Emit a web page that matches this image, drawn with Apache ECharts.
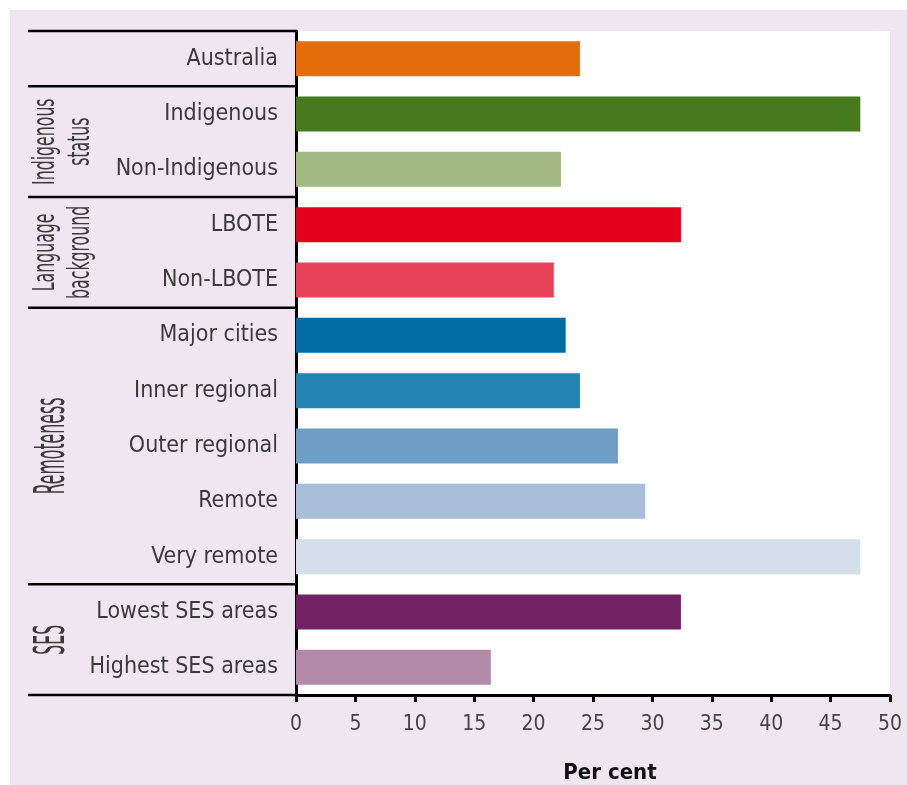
<!DOCTYPE html>
<html>
<head>
<meta charset="utf-8">
<script src="https://cdn.jsdelivr.net/npm/echarts@6/dist/echarts.min.js"></script>
<style>
  body { margin: 0; background: #fff; }
  #bg { position: absolute; left: 10px; top: 10px; width: 897px; height: 775px; background: #f0e6ef; }
  #main { position: absolute; left: 0; top: 0; width: 907px; height: 785px; }
</style>
</head>
<body>
<div id="bg"></div>
<div id="main"></div>
<script>
  var categories = ['Australia', 'Indigenous', 'Non-Indigenous', 'LBOTE', 'Non-LBOTE',
    'Major cities', 'Inner regional', 'Outer regional', 'Remote', 'Very remote',
    'Lowest SES areas', 'Highest SES areas'];
  var values = [23.9, 47.5, 22.3, 32.4, 21.7, 22.7, 23.9, 27.1, 29.4, 47.5, 32.4, 16.4];
  var barColors = ['#e26d0a', '#467a1d', '#a2b983', '#e2001a', '#e8425a', '#006ca3',
    '#2384b3', '#6f9ec4', '#a7bdd8', '#d4dfea', '#722264', '#b38ba9'];
  // group label, number of categories in the group
  var groupNames = ['', 'Indigenous\nstatus', 'Language\nbackground', 'Remoteness', 'SES'];
  var groupSizes = [1, 2, 2, 5, 2];

  var font = '"DejaVu Sans Condensed", "DejaVu Sans", sans-serif';
  var chart = echarts.init(document.getElementById('main'));

  var barData = [];
  for (var i = 0; i < values.length; i++) {
    barData.push({ value: values[i], itemStyle: { color: barColors[i] } });
  }

  chart.setOption({
    backgroundColor: 'transparent',
    animation: false,
    grid: {
      left: 296, right: 17, top: 31, bottom: 90,
      show: true, backgroundColor: '#fff', borderWidth: 0
    },
    xAxis: {
      type: 'value', min: 0, max: 50, interval: 5,
      splitLine: { show: false },
      axisLine: { show: true, lineStyle: { color: '#000', width: 3 } },
      axisTick: { show: true, length: 7, lineStyle: { color: '#000', width: 3 } },
      axisLabel: { color: '#444', fontSize: 21, fontFamily: font, margin: 19 }
    },
    yAxis: {
      type: 'category', data: categories, inverse: true,
      axisLine: { show: true, lineStyle: { color: '#000', width: 3 } },
      axisTick: { show: false },
      axisLabel: { color: '#3a3a3a', fontSize: 23, fontFamily: font, margin: 18 }
    },
    series: [{
      type: 'bar',
      data: barData,
      barWidth: 35
    }]
  });

  // group separators and rotated group titles, placed from the category axis
  var graphics = [];
  var c0 = chart.convertToPixel({ yAxisIndex: 0 }, 0);
  var c1 = chart.convertToPixel({ yAxisIndex: 0 }, 1);
  var band = c1 - c0;
  var axisX = chart.convertToPixel({ xAxisIndex: 0 }, 0);
  var idx = 0;
  var topY = c0 - band / 2;
  graphics.push({ type: 'line', z: 100, shape: { x1: 28, y1: topY, x2: axisX, y2: topY },
    style: { stroke: '#000', lineWidth: 2.5 } });
  for (var g = 0; g < groupNames.length; g++) {
    var yStart = c0 + (idx - 0.5) * band;
    idx += groupSizes[g];
    var yEnd = c0 + (idx - 0.5) * band;
    graphics.push({ type: 'line', z: 100, shape: { x1: 28, y1: yEnd, x2: axisX, y2: yEnd },
      style: { stroke: '#000', lineWidth: 2.5 } });
    if (groupNames[g]) {
      var twoLines = groupNames[g].indexOf('\n') >= 0;
      graphics.push({
        type: 'text', z: 100, x: 29, y: (yStart + yEnd) / 2, rotation: Math.PI / 2,
        scaleY: twoLines ? 1.75 : 2.4,
        style: {
          text: groupNames[g], fill: '#3a3a3a', font: '17.5px ' + font,
          align: 'center', verticalAlign: 'top', lineHeight: 20
        }
      });
    }
  }
  graphics.push({
    type: 'text', z: 100, x: 610, y: 773,
    style: { text: 'Per cent', fill: '#111', font: 'bold 22px ' + font, align: 'center', verticalAlign: 'middle' }
  });
  chart.setOption({ graphic: graphics });
</script>
</body>
</html>
